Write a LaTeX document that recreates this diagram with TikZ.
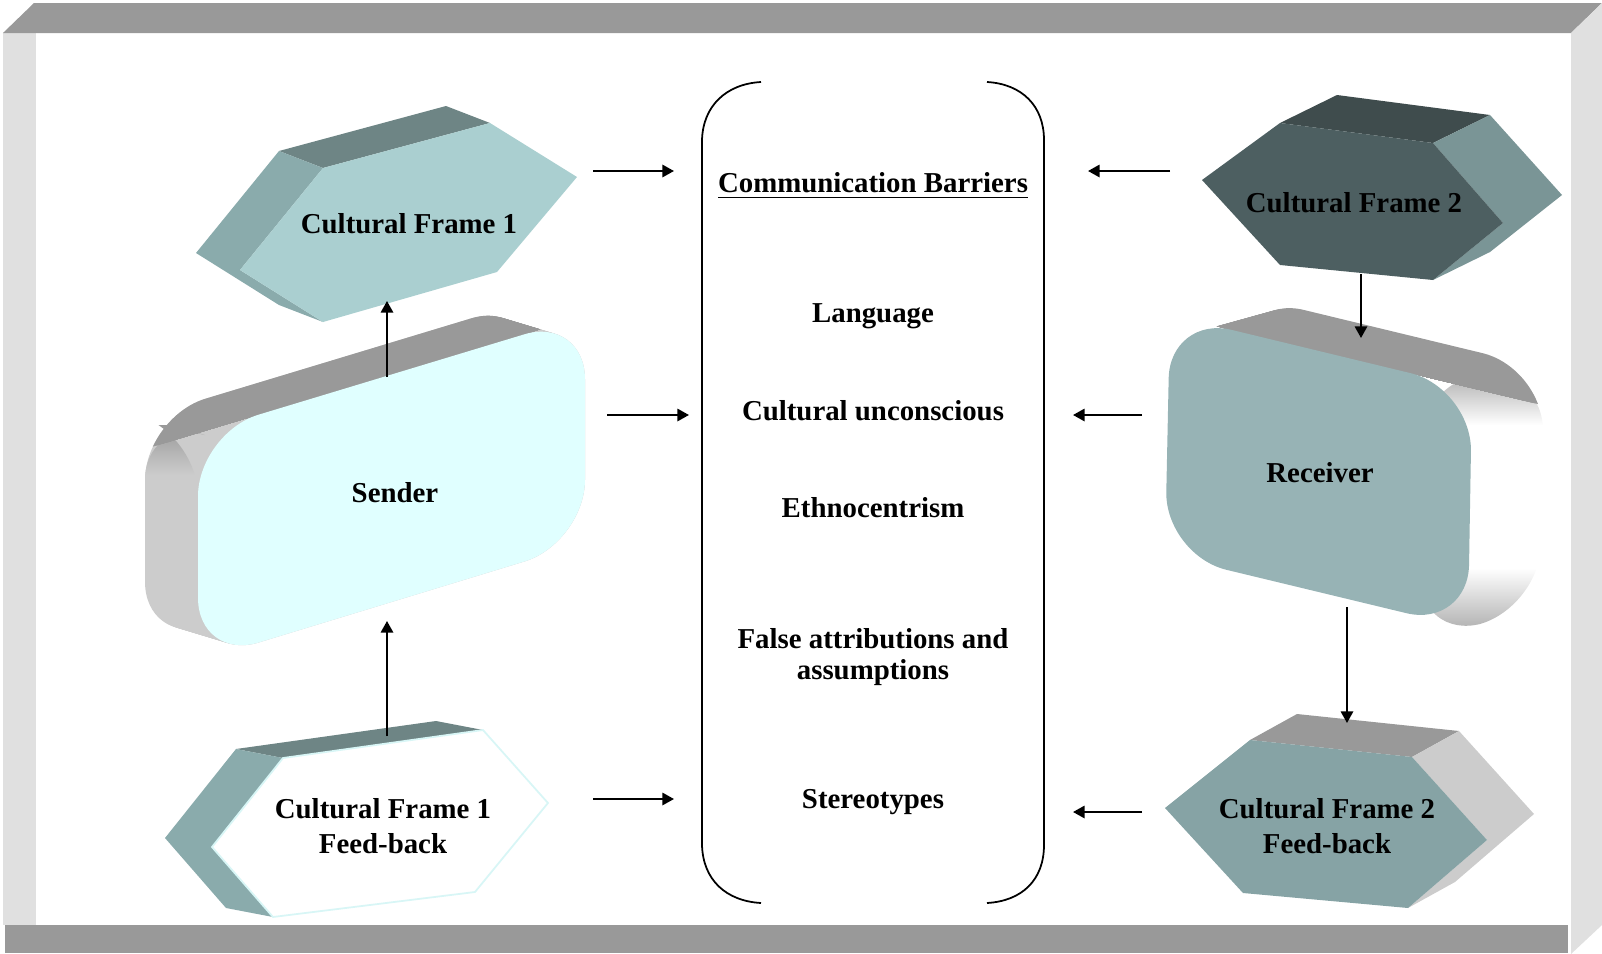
\documentclass[tikz,border=0pt]{standalone}
\usepackage{fontspec}
\setmainfont{Liberation Serif}
\usetikzlibrary{arrows.meta}
\definecolor{framedark}{HTML}{999999}
\definecolor{framelight}{HTML}{E0E0E0}
\definecolor{cfoneFront}{HTML}{AACFD0}
\definecolor{cfoneTop}{HTML}{6E8585}
\definecolor{cfoneSide}{HTML}{8AABAC}
\definecolor{senderFront}{HTML}{E0FFFF}
\definecolor{boxTop}{HTML}{999999}
\definecolor{boxSide}{HTML}{CCCCCC}
\definecolor{cftwoFront}{HTML}{4D5F61}
\definecolor{cftwoTop}{HTML}{3F4C4D}
\definecolor{cftwoSide}{HTML}{7A9596}
\definecolor{recvFront}{HTML}{97B3B5}
\definecolor{cftwofbFront}{HTML}{86A3A5}
\definecolor{fbEdge}{HTML}{D8F6F6}
\newcommand\senderShape[1]{\fill[#1, rounded corners=18] (198,433) -- (585,316) -- (585,543) -- (198,661) -- cycle;}
\newcommand\recvShape[1]{\fill[#1, rounded corners=18] (1170,315) -- (1472,388) -- (1468,628) -- (1165,555) -- cycle;}
\begin{document}
\begin{tikzpicture}[x=0.01cm,y=-0.01cm,
  lbl/.style={font=\fontsize{8.2}{10}\selectfont\bfseries, align=center, inner sep=0pt},
  arr/.style={-{Triangle[length=3.3pt,width=3.5pt]}, line width=0.6pt},
  brk/.style={line width=0.5pt}]
\useasboundingbox (0,0) rectangle (1602,954);
% ---------- frame ----------
\fill[framelight] (3,32) rectangle (36,925);
\fill[framedark] (3,33) -- (34,3) -- (1602,3) -- (1571,33) -- cycle;
\fill[framelight] (1571,33) -- (1602,3) -- (1602,925) -- (1571,954) -- cycle;
\fill[framedark] (5,925) rectangle (1568,953);

% ---------- Cultural Frame 1 ----------
\fill[cfoneTop] (279,151) -- (446,106) -- (490,123) -- (323,168) -- cycle;
\fill[cfoneSide] (279,151) -- (196,253) -- (279,305) -- (323,322) -- (240,270) -- (323,168) -- cycle;
\fill[cfoneFront] (240,270) -- (323,168) -- (490,123) -- (577,177) -- (497,272) -- (323,322) -- cycle;

% ---------- Sender (extruded, offset (-53,-16)) ----------
\foreach \i in {0,...,27} {
  \pgfmathsetmacro\sx{-53*(1-\i/27)}
  \pgfmathsetmacro\sy{-16*(1-\i/27)}
  \begin{scope}[shift={(\sx,\sy)}]\senderShape{boxSide}\end{scope}
}
\begin{scope}
  \clip[rounded corners=18] (198,433) -- (145,417) -- (145,645) -- (198,661) -- cycle;
  \shade[top color=boxTop, bottom color=boxSide] (130,425) rectangle (205,475);
\end{scope}
\begin{scope}
  \clip (100,462.6) -- (700,280.9) -- (700,250) -- (100,250) -- cycle;
  \foreach \i in {0,...,27} {
    \pgfmathsetmacro\sx{-53*(1-\i/27)}
    \pgfmathsetmacro\sy{-16*(1-\i/27)}
    \begin{scope}[shift={(\sx,\sy)}]\senderShape{boxTop}\end{scope}
  }
\end{scope}
\senderShape{senderFront}

% ---------- Cultural Frame 1 Feed-back ----------
\fill[cfoneTop] (236,749) -- (436,721) -- (483,730) -- (283,758) -- cycle;
\fill[cfoneSide] (236,749) -- (165,838) -- (226,908) -- (273,917) -- (212,847) -- (283,758) -- cycle;
\filldraw[fill=white, draw=fbEdge, line width=0.5pt] (212,847) -- (283,758) -- (483,730) -- (548,803) -- (475,892) -- (273,917) -- cycle;

% ---------- Cultural Frame 2 ----------
\fill[cftwoTop] (1280,123) -- (1337,95) -- (1490,115) -- (1433,143) -- cycle;
\fill[cftwoSide] (1433,143) -- (1490,115) -- (1562,195) -- (1490,252) -- (1433,280) -- (1503,223) -- cycle;
\fill[cftwoFront] (1202,180) -- (1280,123) -- (1433,143) -- (1503,223) -- (1433,280) -- (1280,265) -- cycle;

% ---------- Receiver (extruded, offset (72,-20)) ----------
\foreach \i in {0,...,36} {
  \pgfmathsetmacro\sx{72*(1-\i/36)}
  \pgfmathsetmacro\sy{-20*(1-\i/36)}
  \begin{scope}[shift={(\sx,\sy)}]\recvShape{white}\end{scope}
}
\begin{scope}
  \clip[rounded corners=18] (1420,380) -- (1544,368) -- (1540,608) -- (1420,640) -- cycle;
  \shade[top color=boxTop, bottom color=white] (1400,360) rectangle (1600,425);
  \shade[top color=white, bottom color=boxTop!85] (1400,568) rectangle (1600,636);
\end{scope}
\begin{scope}
  \clip (1100,298.1) -- (1600,419) -- (1600,250) -- (1100,250) -- cycle;
  \foreach \i in {0,...,36} {
    \pgfmathsetmacro\sx{72*(1-\i/36)}
    \pgfmathsetmacro\sy{-20*(1-\i/36)}
    \begin{scope}[shift={(\sx,\sy)}]\recvShape{boxTop}\end{scope}
  }
\end{scope}
\recvShape{recvFront}

% ---------- Cultural Frame 2 Feed-back ----------
\fill[boxTop] (1250,740) -- (1297,714) -- (1459,731) -- (1412,757) -- cycle;
\fill[boxSide] (1412,757) -- (1459,731) -- (1534,814) -- (1455,882) -- (1408,908) -- (1487,840) -- cycle;
\fill[cftwofbFront] (1165,808) -- (1250,740) -- (1412,757) -- (1487,840) -- (1408,908) -- (1243,893) -- cycle;

% ---------- labels ----------
\node[lbl, anchor=base] (cfone) at (409,233) {Cultural Frame 1};
\node[lbl, anchor=base] (sender) at (395,502) {Sender};
\node[lbl] (cfonefb) at (383,826) {Cultural Frame 1\\Feed-back};
\node[lbl, anchor=base] (cftwo) at (1354,212) {Cultural Frame 2};
\node[lbl, anchor=base] (receiver) at (1320,482) {Receiver};
\node[lbl] (cftwofb) at (1327,826) {Cultural Frame 2\\Feed-back};

% ---------- barriers ----------
\draw[brk] (761,82) .. controls (726,84) and (703,106) .. (702,140) -- (702,845) .. controls (703,880) and (726,901) .. (761,903);
\draw[brk] (987,82) .. controls (1022,84) and (1044,106) .. (1044,140) -- (1044,845) .. controls (1044,880) and (1022,901) .. (987,903);
\node[lbl, anchor=base] (title) at (873,192) {\underline{Communication Barriers}};
\node[lbl, anchor=base] (lang) at (873,322) {Language};
\node[lbl, anchor=base] (cu) at (873,420) {Cultural unconscious};
\node[lbl, anchor=base] (eth) at (873,517) {Ethnocentrism};
\node[lbl, font=\fontsize{8.2}{9}\selectfont\bfseries] (fa) at (873,657) {False attributions and\\assumptions};
\node[lbl, anchor=base] (st) at (873,808) {Stereotypes};

% ---------- connector end points ----------
\coordinate (l1s) at (593,171);  \coordinate (l1e) at (674,171);
\coordinate (l2s) at (607,415);  \coordinate (l2e) at (689,415);
\coordinate (l3s) at (593,799);  \coordinate (l3e) at (674,799);
\coordinate (r1s) at (1170,171); \coordinate (r1e) at (1088,171);
\coordinate (r2s) at (1142,415); \coordinate (r2e) at (1073,415);
\coordinate (r3s) at (1142,812); \coordinate (r3e) at (1073,812);
\coordinate (sendertop) at (387,377);  \coordinate (cfonebot) at (387,301);
\coordinate (fbtop) at (387,736);      \coordinate (senderbot) at (387,621);
\coordinate (cftwobot) at (1361,274);  \coordinate (recvtop) at (1361,338);
\coordinate (recvbot) at (1347,607);   \coordinate (fbtwotop) at (1347,723);

\draw[arr] (l1s) -- (l1e);
\draw[arr] (l2s) -- (l2e);
\draw[arr] (l3s) -- (l3e);
\draw[arr] (r1s) -- (r1e);
\draw[arr] (r2s) -- (r2e);
\draw[arr] (r3s) -- (r3e);
\draw[arr] (sendertop) -- (cfonebot);
\draw[arr] (fbtop) -- (senderbot);
\draw[arr] (cftwobot) -- (recvtop);
\draw[arr] (recvbot) -- (fbtwotop);
\end{tikzpicture}
\end{document}
